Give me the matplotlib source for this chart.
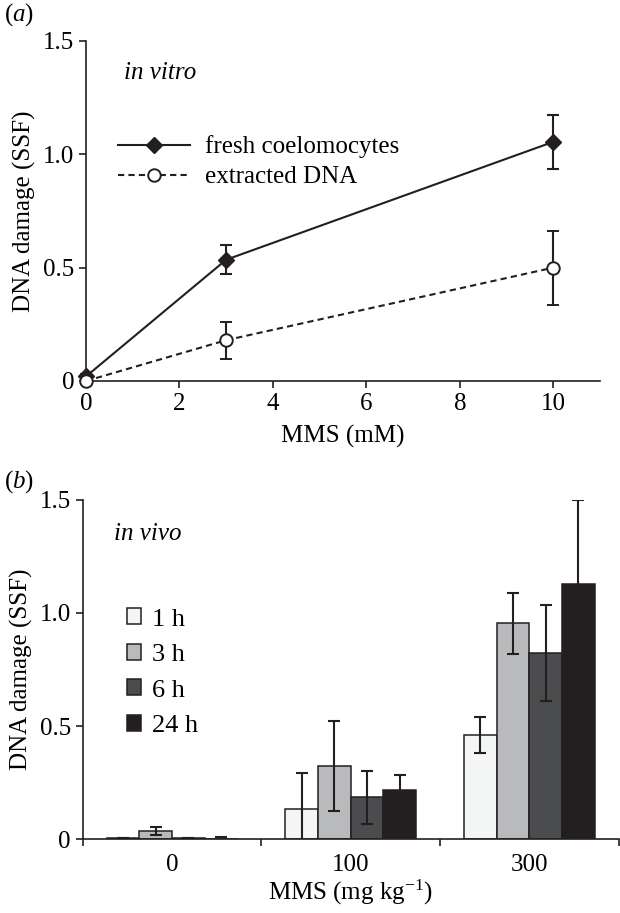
import numpy as np
import matplotlib
matplotlib.use("Agg")
import matplotlib.pyplot as plt
from matplotlib import font_manager
from matplotlib.patches import Patch
from matplotlib.lines import Line2D

# make sure the Times-like face is registered
for f in font_manager.findSystemFonts():
    if 'LiberationSerif' in f:
        font_manager.fontManager.addfont(f)

plt.rcParams['font.family'] = ['Liberation Serif', 'DejaVu Serif']
plt.rcParams['mathtext.fontset'] = 'custom'
plt.rcParams['mathtext.rm'] = 'Liberation Serif'
plt.rcParams['mathtext.it'] = 'Liberation Serif:italic'

INK = '#231f20'

# panel (a): in vitro
mms_mM = [0, 3, 10]
fresh = [0.02, 0.535, 1.055]
fresh_err = [0.01, 0.065, 0.12]
extracted = [0.0, 0.18, 0.50]
extracted_err = [0.005, 0.082, 0.163]

# panel (b): in vivo
doses = ['0', '100', '300']
times = ['1 h', '3 h', '6 h', '24 h']
vals_1h = [0.005, 0.135, 0.46]
vals_3h = [0.034, 0.324, 0.954]
vals_6h = [0.004, 0.184, 0.823]
vals_24h = [-0.005, 0.217, 1.13]
err_1h = [0.0, 0.158, 0.079]
err_3h = [0.018, 0.200, 0.136]
err_6h = [0.0, 0.116, 0.211]
err_24h = [0.014, 0.066, 0.37]
bar_colors = ['#f4f5f5', '#b9babb', '#4b4c4e', INK]

fig = plt.figure(figsize=(6.2, 9.13), dpi=100)
axa = fig.add_axes([0.1387, 0.5827, 0.829, 0.3724])
axb = fig.add_axes([0.1334, 0.0810, 0.8646, 0.3714])

fs = 18

# ---- (a)
ea = axa.errorbar(mms_mM, fresh, yerr=fresh_err, color=INK, lw=1.5, marker='D', ms=8,
                  mfc=INK, mec=INK, capsize=4, capthick=1.5, elinewidth=1.5,
                  zorder=3)
eb = axa.errorbar(mms_mM, extracted, yerr=extracted_err, color=INK, lw=1.5,
                  ls=(0, (3, 2)), marker='o', ms=9, mfc='white', mec=INK, mew=1.4,
                  capsize=4, capthick=1.5, elinewidth=1.5, zorder=3)
for cont in (ea, eb):
    for art in cont.get_children():
        art.set_clip_on(False)
axa.set_xlim(0, 11)
axa.set_ylim(0, 1.5)
axa.set_xticks([0, 2, 4, 6, 8, 10])
axa.set_yticks([0, 0.5, 1.0, 1.5])
axa.set_yticklabels(['0', '0.5', '1.0', '1.5'])
axa.set_xlabel('MMS (mM)', fontsize=fs, labelpad=7)
axa.set_ylabel('DNA damage (SSF)', fontsize=fs, labelpad=5)
axa.text(0.81, 1.36, 'in vitro', fontsize=fs, style='italic', va='center')
h1 = Line2D([], [], color=INK, lw=1.5, marker='D', ms=8, mfc=INK, mec=INK)
h2 = Line2D([], [], color=INK, lw=1.5, ls=(0, (3, 2)), marker='o', ms=9,
            mfc='white', mec=INK, mew=1.4)
axa.legend([h1, h2], ['fresh coelomocytes', 'extracted DNA'], loc='upper left',
           bbox_to_anchor=(0.062, 0.722), frameon=False, fontsize=fs,
           handlelength=2.9, handletextpad=0.6, labelspacing=0.3, borderpad=0,
           borderaxespad=0)

# ---- (b)
x = np.arange(len(doses))
w = 0.1827
all_vals = [vals_1h, vals_3h, vals_6h, vals_24h]
all_errs = [err_1h, err_3h, err_6h, err_24h]
for i in range(4):
    pos = x + (i - 1.5) * w
    axb.bar(pos, all_vals[i], width=w, color=bar_colors[i], edgecolor=INK,
            linewidth=1.1, zorder=2)
    axb.errorbar(pos, all_vals[i], yerr=all_errs[i], fmt='none', ecolor=INK,
                 elinewidth=1.5, capsize=4, capthick=1.5, zorder=3)
axb.set_xlim(-0.5, 2.5)
axb.set_ylim(0, 1.5)
axb.set_xticks([-0.5, 0.5, 1.5, 2.5])
axb.set_xticklabels([])
axb.set_xticks(x, minor=True)
axb.set_xticklabels(doses, minor=True)
axb.tick_params(axis='x', which='minor', length=0, pad=11)
axb.set_yticks([0, 0.5, 1.0, 1.5])
axb.set_yticklabels(['0', '0.5', '1.0', '1.5'])
axb.set_xlabel('MMS (mg kg$^{-1}$)', fontsize=fs, labelpad=1)
axb.set_ylabel('DNA damage (SSF)', fontsize=fs, labelpad=5)
axb.text(-0.323, 1.35, 'in vivo', fontsize=fs, style='italic', va='center')
handles = [Patch(facecolor=c, edgecolor=INK, linewidth=1.1) for c in bar_colors]
axb.legend(handles, times, loc='upper left', bbox_to_anchor=(0.082, 0.68),
           frameon=False, fontsize=fs + 1, handlelength=0.55, handleheight=0.55,
           handletextpad=0.4, labelspacing=0.5, borderpad=0, borderaxespad=0)

for ax in (axa, axb):
    for s in ('top', 'right'):
        ax.spines[s].set_visible(False)
    for s in ('left', 'bottom'):
        ax.spines[s].set_linewidth(1.2)
        ax.spines[s].set_color(INK)
    ax.tick_params(which='major', direction='out', length=5, width=1.2,
                   color=INK, labelsize=fs)
    ax.tick_params(which='minor', labelsize=fs)

fig.text(0.006, 0.984, '($\\it{a}$)', fontsize=fs, va='center', ha='left')
fig.text(0.006, 0.472, '($\\it{b}$)', fontsize=fs, va='center', ha='left')

fig.savefig('out.png', dpi=100)
